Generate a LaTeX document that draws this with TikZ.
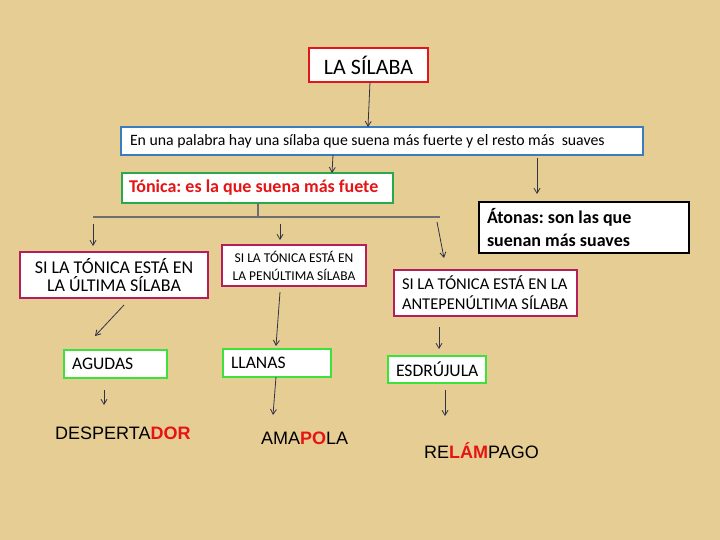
\documentclass[tikz,border=0pt]{standalone}
\usepackage{fontspec}
\setmainfont{Carlito}
\newfontfamily\arialf{Liberation Sans}
\usetikzlibrary{arrows.meta}
\frenchspacing
\definecolor{bg}{RGB}{230,205,148}
\definecolor{redb}{RGB}{226,20,30}
\definecolor{blueb}{RGB}{58,125,190}
\definecolor{greenb}{RGB}{40,170,75}
\definecolor{limeb}{RGB}{60,225,60}
\definecolor{crim}{RGB}{180,30,90}
\definecolor{arrc}{RGB}{50,50,70}
\definecolor{treec}{RGB}{110,110,110}
\definecolor{redt}{RGB}{230,20,20}
\newcommand{\lbox}[2]{\parbox{#1}{\raggedright #2}}
\tikzset{
  bx/.style={draw, fill=white, line width=1.8pt, inner sep=0pt, outer sep=0pt},
  arr/.style={draw=arrc, line width=0.8pt, -{Straight Barb[length=5pt,width=6pt]}},
  tree/.style={draw=treec, line width=1.2pt},
  word/.style={inner sep=0pt, anchor=west, font=\arialf\fontsize{18}{21}\selectfont}
}
\begin{document}
\begin{tikzpicture}[x=1pt,y=-1pt]
\useasboundingbox (0,0) rectangle (720,540);
\fill[bg] (0,0) rectangle (720,540);
% boxes
\node[bx, draw=redb, minimum width=119pt, minimum height=34pt, font=\fontsize{22}{24}\selectfont] (sil) at (368.5,65) {LA SÍLABA};
\node[bx, draw=blueb, minimum width=522pt, minimum height=28pt, font=\fontsize{15.8}{18}\selectfont] (def) at (382,141) {\lbox{504pt}{\mbox{En una palabra hay una sílaba que suena más fuerte y el resto más \ suaves}}};
\node[bx, draw=greenb, minimum width=271pt, minimum height=30pt, text=redt, font=\bfseries\fontsize{18}{20}\selectfont] (ton) at (257.5,188) {\lbox{257pt}{\mbox{Tónica: es la que suena más fuete}}};
\node[bx, draw=black, minimum width=210pt, minimum height=51pt, font=\bfseries\fontsize{18}{22.5}\selectfont] (ato) at (584,227.5) {\lbox{194pt}{\mbox{Átonas: son las que}\\\mbox{suenan más suaves}}};
\node[bx, draw=crim, minimum width=188pt, minimum height=46pt, align=center, font=\fontsize{18}{18.5}\selectfont] (u1) at (114,275) {SI LA TÓNICA ESTÁ EN\\LA ÚLTIMA SÍLABA};
\node[bx, draw=crim, minimum width=144pt, minimum height=41pt, align=center, font=\fontsize{13.5}{18}\selectfont] (u2) at (294,265.5) {SI LA TÓNICA ESTÁ EN\\LA PENÚLTIMA SÍLABA};
\node[bx, draw=crim, minimum width=183pt, minimum height=46pt, font=\fontsize{16.5}{20}\selectfont] (u3) at (485.5,293) {\lbox{167pt}{\mbox{SI LA TÓNICA ESTÁ EN LA}\\\mbox{ANTEPENÚLTIMA SÍLABA}}};
\node[bx, draw=limeb, minimum width=103pt, minimum height=28pt, font=\fontsize{17.6}{20}\selectfont] (agu) at (115.5,364) {\lbox{87pt}{\mbox{AGUDAS}}};
\node[bx, draw=limeb, minimum width=108pt, minimum height=28pt, font=\fontsize{17.6}{20}\selectfont] (lla) at (277,363) {\lbox{92pt}{\mbox{LLANAS}}};
\node[bx, draw=limeb, minimum width=98pt, minimum height=27pt, font=\fontsize{17.6}{20}\selectfont] (esd) at (437,369.5) {\lbox{82pt}{\mbox{ESDRÚJULA}}};
% words
\node[word] (w1) at (55,433) {DESPERTA\textcolor{redt}{\bfseries DOR}};
\node[word] (w2) at (261,438) {AMA\textcolor{redt}{\bfseries PO}LA};
\node[word] (w3) at (424,451) {RE\textcolor{redt}{\bfseries LÁM}PAGO};
% coordinates
\coordinate (t0) at (258,217);
\coordinate (tl) at (93,217);
\coordinate (tr) at (440,217);
\coordinate (a1s) at (93,224);   \coordinate (a1e) at (93,246);
\coordinate (a2s) at (280,224);  \coordinate (a2e) at (280,240);
\coordinate (a3s) at (437,222);  \coordinate (a3e) at (444,258);
\coordinate (a4s) at (537,158);  \coordinate (a4e) at (537,194);
\coordinate (a5s) at (124,305);  \coordinate (a5e) at (95,336);
\coordinate (a6s) at (280,292);  \coordinate (a6e) at (276,346);
\coordinate (a7s) at (439,327);  \coordinate (a7e) at (439,349);
\coordinate (a8s) at (104,390);  \coordinate (a8e) at (104,405);
\coordinate (a9e) at (273,415);
\coordinate (a10s) at (445,390); \coordinate (a10e) at (445,416);
% connectors
\draw[arr] ([xshift=1.5pt]sil.south) -- ([xshift=-14pt]def.north);
\draw[arr] ([xshift=-49pt]def.south) -- ([xshift=74.5pt]ton.north);
\draw[tree] ([xshift=0.5pt]ton.south) -- (t0);
\draw[tree] (tl) -- (tr);
\draw[arr] (a1s) -- (a1e);
\draw[arr] (a2s) -- (a2e);
\draw[arr] (a3s) -- (a3e);
\draw[arr] (a4s) -- (a4e);
\draw[arr] (a5s) -- (a5e);
\draw[arr] (a6s) -- (a6e);
\draw[arr] (a7s) -- (a7e);
\draw[arr] (a8s) -- (a8e);
\draw[arr] ([xshift=-1pt]lla.south) -- (a9e);
\draw[arr] (a10s) -- (a10e);
\end{tikzpicture}
\end{document}
